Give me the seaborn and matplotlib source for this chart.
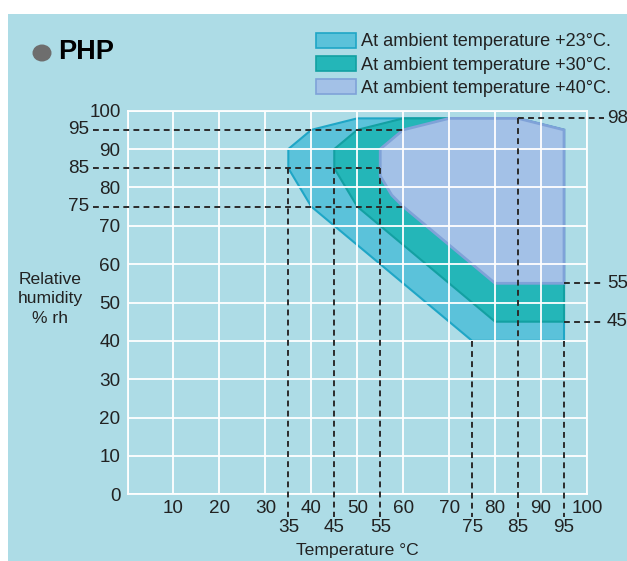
import matplotlib
matplotlib.use("Agg")
import matplotlib.pyplot as plt
import seaborn as sns
import pandas as pd
from matplotlib.patches import Rectangle, Circle, Patch

# ---------------- data ----------------
series_labels = ["At ambient temperature +23°C.",
                 "At ambient temperature +30°C.",
                 "At ambient temperature +40°C."]
temp_23 = [35, 35, 40, 50, 85, 95, 95, 75, 40]
rh_23 = [85, 90, 95, 98, 98, 95, 40, 40, 75]
temp_30 = [45, 45, 50, 60, 85, 95, 95, 80, 50]
rh_30 = [85, 90, 95, 98, 98, 95, 45, 45, 75]
temp_40 = [55, 55, 60, 70, 85, 95, 95, 80, 60, 57.5, 56, 55]
rh_40 = [85, 90, 95, 98, 98, 95, 55, 55, 75, 78, 81, 83]

x_ticks = [10, 20, 30, 40, 50, 60, 70, 80, 90, 100]
y_ticks = [0, 10, 20, 30, 40, 50, 60, 70, 80, 90, 100]
marked_temps = [35, 45, 55, 75, 85, 95]
marked_temp_tops = [85, 85, 85, 40, 98, 40]
marked_rh_left = [95, 85, 75]
marked_rh_left_ends = [60, 55, 60]
marked_rh_right = [98, 55, 45]
marked_rh_right_starts = [85, 95, 95]

# ---------------- style ----------------
sns.set_theme(style="white")
plt.rcParams["font.family"] = ["Liberation Sans", "DejaVu Sans"]

BG = "#ADDCE6"
TXT = "#222222"
fills = ["#5BC2DA", "#24B6B8", "#A3C1E7"]
edges = ["#1FA6C6", "#13A0A2", "#7FA2D8"]
NUM = 13.6

W, H = 627, 561
fig = plt.figure(figsize=(W / 100, H / 100), dpi=100, facecolor="white")
fig.patches.append(Rectangle((8 / W, 0), 1 - 8 / W, 1 - 14 / H,
                             transform=fig.transFigure, facecolor=BG,
                             edgecolor="none", zorder=-10))

x0, x1 = 127.5, 587.0
y0, y1 = 494.3, 110.7
ax = fig.add_axes([x0 / W, (H - y0) / H, (x1 - x0) / W, (y0 - y1) / H])
ax.patch.set_alpha(0)
ax.set_xlim(0, 100)
ax.set_ylim(0, 100)

# polygons
for tx, ry, fc, ec, lw in zip([temp_23, temp_30, temp_40], [rh_23, rh_30, rh_40],
                              fills, edges, [1.5, 1.5, 2.0]):
    ax.fill(tx, ry, facecolor=fc, edgecolor=ec, linewidth=lw, zorder=1)

# grid
ax.set_axisbelow("line")
ax.set_xticks(list(range(0, 101, 10)))
ax.set_yticks(y_ticks)
ax.grid(True, color="white", linewidth=1.3)
for s in ax.spines.values():
    s.set_color("white")
    s.set_linewidth(1.3)
ax.tick_params(length=0, labelsize=NUM, labelcolor=TXT)
ax.tick_params(axis="y", pad=5.0)
ax.tick_params(axis="x", pad=4.2)
ax.set_xticklabels([""] + [str(v) for v in x_ticks])
ax.set_yticklabels([str(v) for v in y_ticks])

# dashed guides
rows = []
seg = 0
for y, xe in zip(marked_rh_left, marked_rh_left_ends):
    rows += [dict(x=-7.6, y=y, seg=seg), dict(x=xe, y=y, seg=seg)]
    seg += 1
for x, yt in zip(marked_temps, marked_temp_tops):
    rows += [dict(x=x, y=yt, seg=seg), dict(x=x, y=-6.0, seg=seg)]
    seg += 1
for y, xs in zip(marked_rh_right, marked_rh_right_starts):
    rows += [dict(x=xs, y=y, seg=seg), dict(x=103.6, y=y, seg=seg)]
    seg += 1
guides = pd.DataFrame(rows)
sns.lineplot(data=guides, x="x", y="y", units="seg", estimator=None, sort=False,
             color="#2B2B2B", linewidth=1.4, linestyle=(0, (3.0, 2.2)),
             clip_on=False, zorder=3, ax=ax)
ax.set_xlabel("")
ax.set_ylabel("")

for y in marked_rh_left:
    ax.text(-8.4, y, str(y), ha="right", va="center", fontsize=NUM, color=TXT, clip_on=False)
for y in marked_rh_right:
    ax.text(104.3, y, str(y), ha="left", va="center", fontsize=NUM, color=TXT, clip_on=False)
for x in marked_temps:
    ax.annotate(str(x), xy=(x, 0), xycoords="data", xytext=(0, -33.5),
                textcoords="offset pixels", ha="center", va="center",
                fontsize=NUM, color=TXT, annotation_clip=False)

# axis labels
fig.text(50 / W, 1 - 299 / H, "Relative\nhumidity\n% rh", ha="center", va="center",
         fontsize=12.6, color=TXT, linespacing=1.4)
fig.text(357 / W, 1 - 551 / H, "Temperature °C", ha="center", va="center",
         fontsize=12.6, color=TXT)

# title
fig.patches.append(Circle((42 / W, 1 - 53 / H), 9.5 / W, transform=fig.transFigure,
                          facecolor="#6E6E6E", edgecolor="none"))
fig.text(58.5 / W, 1 - 52 / H, "PHP", ha="left", va="center", fontsize=19.5,
         fontweight="bold", color="black")

# legend
handles = [Patch(facecolor=fc, edgecolor=ec, linewidth=1.2) for fc, ec in zip(fills, edges)]
fig.legend(handles, series_labels, loc="upper left",
           bbox_to_anchor=(316 / W, 1 - 32.5 / H), frameon=False, fontsize=13.1,
           handlelength=2.2, handleheight=0.9, handletextpad=0.3,
           labelspacing=0.3, borderpad=0, borderaxespad=0, labelcolor=TXT)

fig.savefig("out.png", dpi=100, facecolor="white")
